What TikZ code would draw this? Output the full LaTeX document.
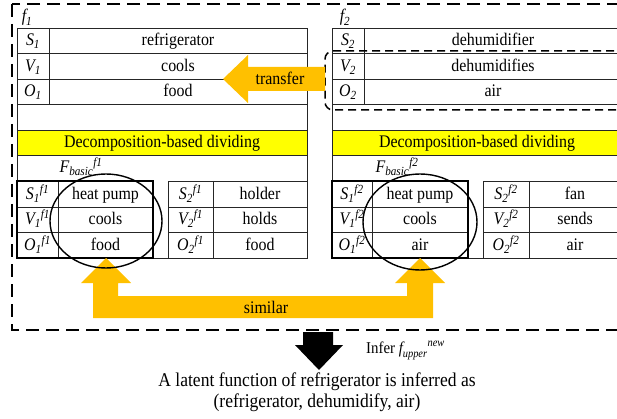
\documentclass[tikz,border=0pt]{standalone}
\usepackage{amsmath}
\usepackage{graphicx}
\usepackage{fontspec}
\setmainfont{Liberation Serif}
\newfontfamily\tnr{Liberation Serif}
\definecolor{arroworange}{RGB}{255,192,0}
\definecolor{boxyellow}{RGB}{255,255,0}
\newcommand{\hs}[1]{\scalebox{0.9}[1]{#1}}
\newcommand{\lb}[2]{\hs{$\text{\tnr\itshape #1}_{\text{\tnr\itshape #2}}$}}
\newcommand{\lbs}[3]{\hs{$\text{\tnr\itshape #1}_{\text{\tnr\itshape #2}}{}^{\text{\tnr\itshape #3}}$}}
\tikzset{
  txt/.style={inner sep=0pt, text height=13pt, text depth=2pt, font=\tnr\fontsize{17.7}{20}\selectfont},
  bigtxt/.style={inner sep=0pt, anchor=base, font=\tnr\fontsize{19.5}{22}\selectfont},
  grid/.style={line width=0.8pt, draw=black!85},
  thickbox/.style={line width=1.8pt, draw=black},
  outerdash/.style={line width=1.8pt, dash pattern=on 13pt off 7pt},
  innerdash/.style={line width=1.5pt, dash pattern=on 8pt off 5pt},
  bigarrow/.style={fill=arroworange, draw=none},
  circ/.style={line width=1.4pt, draw=black}
}
\begin{document}
\begin{tikzpicture}[x=1pt,y=-1pt]
\useasboundingbox (0,0) rectangle (617,419);
\clip (0,0) rectangle (617,419);
\fill[white] (0,0) rectangle (617,419);

% ---- f1 frame
\fill[boxyellow] (17,130) rectangle (307,155);
\fill[boxyellow] (332,130) rectangle (622,155);
\draw[grid] (17,28) rectangle (307,258);
\foreach \yy in {53,79,104,130,155} \draw[grid] (17,\yy) -- (307,\yy);
\draw[grid] (49,28) -- (49,104);
% f1 lower tables
\draw[grid] (168,181) rectangle (307,258);
\draw[grid] (213,181) -- (213,258);
\foreach \yy in {207,232} \draw[grid] (168,\yy) -- (307,\yy);
\foreach \yy in {207,232} \draw[grid] (17,\yy) -- (153,\yy);
\draw[grid] (58,181) -- (58,258);
\draw[thickbox] (17,181) rectangle (153,258);

% ---- f2 frame
\draw[grid] (332,28) rectangle (622,258);
\foreach \yy in {53,79,104,130,155} \draw[grid] (332,\yy) -- (622,\yy);
\draw[grid] (364,28) -- (364,104);
\draw[grid] (483,181) rectangle (622,258);
\draw[grid] (529,181) -- (529,258);
\foreach \yy in {207,232} \draw[grid] (483,\yy) -- (622,\yy);
\foreach \yy in {207,232} \draw[grid] (332,\yy) -- (468,\yy);
\draw[grid] (372,181) -- (372,258);
\draw[thickbox] (332,181) rectangle (468,258);

% dashed selection in f2
\draw[innerdash, rounded corners=8pt] (640,51) -- (325,51) -- (325,110) -- (640,110);

% outer dashed border
\draw[outerdash] (12,4) rectangle (640,330);

% transfer arrow
\fill[bigarrow] (223,79) -- (248,55) -- (248,67) -- (325,67) -- (325,91) -- (248,91) -- (248,103) -- cycle;
% similar arrow
\fill[bigarrow] (93,318) -- (93,283) -- (81,283) -- (106,258) -- (131,283) -- (118,283) -- (118,296)
  -- (407,296) -- (407,283) -- (395,283) -- (420,258) -- (445,283) -- (433,283) -- (433,318) -- cycle;
% infer arrow
\fill[black] (303,332) -- (333,332) -- (333,345) -- (343,345) -- (319,370) -- (295,345) -- (303,345) -- cycle;

% ellipses
\draw[circ] (106,221) ellipse [x radius=56, y radius=47];
\draw[circ] (420,222) ellipse [x radius=57, y radius=48];

% ---- texts f1
\node[txt] (f1lab) at (27,16) {\lb{f}{1}};
\node[txt] (s1) at (33,40.5) {\lb{S}{1}};
\node[txt] (s1v) at (178,40.5) {\hs{refrigerator}};
\node[txt] (v1) at (33,66) {\lb{V}{1}};
\node[txt] (v1v) at (178,66) {\hs{cools}};
\node[txt] (o1) at (33,91.5) {\lb{O}{1}};
\node[txt] (o1v) at (178,91.5) {\hs{food}};
\node[txt] (dec1) at (162,142.5) {\hs{Decomposition-based dividing}};
\node[txt] (fb1) at (81,167) {\lbs{F}{basic}{f1}};
\node[txt] (a1s) at (37.5,194) {\lbs{S}{1}{f1}};
\node[txt] (a1sv) at (105.5,194) {\hs{heat pump}};
\node[txt] (a1v) at (37.5,219.5) {\lbs{V}{1}{f1}};
\node[txt] (a1vv) at (105.5,219.5) {\hs{cools}};
\node[txt] (a1o) at (37.5,245) {\lbs{O}{1}{f1}};
\node[txt] (a1ov) at (105.5,245) {\hs{food}};
\node[txt] (b1s) at (190.5,194) {\lbs{S}{2}{f1}};
\node[txt] (b1sv) at (260,194) {\hs{holder}};
\node[txt] (b1v) at (190.5,219.5) {\lbs{V}{2}{f1}};
\node[txt] (b1vv) at (260,219.5) {\hs{holds}};
\node[txt] (b1o) at (190.5,245) {\lbs{O}{2}{f1}};
\node[txt] (b1ov) at (260,245) {\hs{food}};

% ---- texts f2
\node[txt] (f2lab) at (345,16) {\lb{f}{2}};
\node[txt] (s2) at (348,40.5) {\lb{S}{2}};
\node[txt] (s2v) at (493,40.5) {\hs{dehumidifier}};
\node[txt] (v2) at (348,66) {\lb{V}{2}};
\node[txt] (v2v) at (493,66) {\hs{dehumidifies}};
\node[txt] (o2) at (348,91.5) {\lb{O}{2}};
\node[txt] (o2v) at (493,91.5) {\hs{air}};
\node[txt] (dec2) at (477,142.5) {\hs{Decomposition-based dividing}};
\node[txt] (fb2) at (397,167) {\lbs{F}{basic}{f2}};
\node[txt] (a2s) at (352,194) {\lbs{S}{1}{f2}};
\node[txt] (a2sv) at (420,194) {\hs{heat pump}};
\node[txt] (a2v) at (352,219.5) {\lbs{V}{1}{f2}};
\node[txt] (a2vv) at (420,219.5) {\hs{cools}};
\node[txt] (a2o) at (352,245) {\lbs{O}{1}{f2}};
\node[txt] (a2ov) at (420,245) {\hs{air}};
\node[txt] (b2s) at (506,194) {\lbs{S}{2}{f2}};
\node[txt] (b2sv) at (575,194) {\hs{fan}};
\node[txt] (b2v) at (506,219.5) {\lbs{V}{2}{f2}};
\node[txt] (b2vv) at (575,219.5) {\hs{sends}};
\node[txt] (b2o) at (506,245) {\lbs{O}{2}{f2}};
\node[txt] (b2ov) at (575,245) {\hs{air}};

% arrow labels
\node[txt] (transfer) at (280,79) {\hs{transfer}};
\node[txt] (similar) at (266,307.5) {\hs{similar}};
\node[inner sep=0pt, anchor=base west, font=\tnr\fontsize{16.5}{19}\selectfont] (infer) at (366,353)
  {\hs{Infer $\text{\tnr\itshape f}_{\text{\tnr\itshape upper}}{}^{\text{\tnr\itshape new}}$}};

% conclusion
\node[bigtxt] (bot1) at (317,386) {\hs{A latent function of refrigerator is inferred as}};
\node[bigtxt] (bot2) at (317,407) {\hs{(refrigerator, dehumidify, air)}};
\end{tikzpicture}
\end{document}
